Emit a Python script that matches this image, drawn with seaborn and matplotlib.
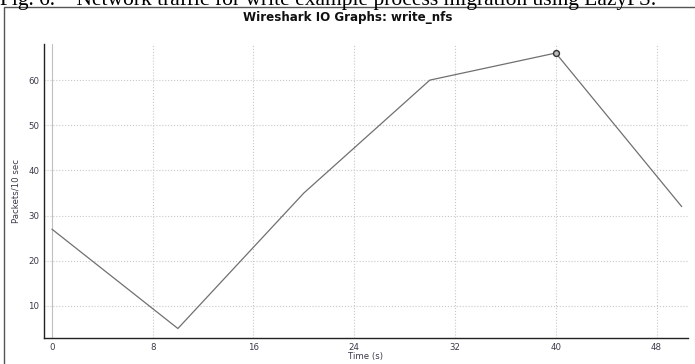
import matplotlib
matplotlib.use("Agg")
import matplotlib.pyplot as plt
import matplotlib.ticker as mticker
from matplotlib.patches import Rectangle
import pandas as pd
import seaborn as sns

# Data
time_s = [0, 10, 20, 30, 40, 50]
packets = [27, 5, 35, 60, 66, 32]
x_ticks = [0, 8, 16, 24, 32, 40, 48]
y_ticks = [10, 20, 30, 40, 50, 60]
marked_time = [40]


def main():
    sns.set_style("white")
    plt.rcParams['font.family'] = ['DejaVu Sans']

    df = pd.DataFrame({"TIME": time_s, "PACKETS": packets})
    df_mark = df[df.TIME.isin(marked_time)]

    fig = plt.figure(figsize=(6.95, 3.64), dpi=100)
    ax = fig.add_axes([44 / 695, 1 - 338 / 364, 644 / 695, 294 / 364])

    sns.lineplot(data=df, x="TIME", y="PACKETS", ax=ax,
                 color="#707070", linewidth=0.9)
    sns.scatterplot(data=df_mark, x="TIME", y="PACKETS", ax=ax,
                    s=18, facecolor="#bbbbbb", edgecolor="#333333",
                    linewidth=1.0, zorder=5)

    ax.set_xlim(-0.63, 50.5)
    ax.set_ylim(2.9, 68)
    ax.set_xticks(x_ticks)
    ax.set_yticks(y_ticks)
    ax.xaxis.set_minor_locator(mticker.MultipleLocator(2))
    ax.yaxis.set_minor_locator(mticker.MultipleLocator(2))

    ax.tick_params(axis="both", which="major", direction="inout", length=5,
                   width=1, color="#333333", labelsize=6.2,
                   labelcolor="#3a3a4a", pad=1)
    ax.tick_params(axis="both", which="minor", direction="inout", length=2.5,
                   width=0.8, color="#333333")

    ax.grid(True, which="major", linestyle=":", color="#c8c8c8", linewidth=0.8)
    ax.get_xgridlines()[0].set_linestyle("-")
    ax.get_xgridlines()[0].set_color("#c0c0c0")

    for side in ["top", "right"]:
        ax.spines[side].set_visible(False)
    for side in ["left", "bottom"]:
        ax.spines[side].set_color("#222222")
        ax.spines[side].set_linewidth(1.0)

    ax.set_xlabel("Time (s)", fontsize=6.2, color="#3a3a4a")
    ax.set_ylabel("Packets/10 sec", fontsize=6.2, color="#3a3a4a")
    ax.yaxis.label.set_va("center")
    ax.xaxis.label.set_va("center")
    ax.yaxis.set_label_coords(-0.043, 0.5)
    ax.xaxis.set_label_coords(0.5, (338 - 356) / 294)

    fig.text(0.5, 1 - 18 / 364, "Wireshark IO Graphs: write_nfs",
             ha="center", va="center", fontsize=8.6, fontweight="bold",
             color="#111111")

    # outer frame of the screenshot
    fig.patches.append(Rectangle((4 / 695, -0.1), 1.1, 1 - 7 / 364 + 0.1,
                                 transform=fig.transFigure, fill=False,
                                 edgecolor="#555555", linewidth=1.0))

    # caption of the page, cut at the top edge
    fig.text(0.0, 1 - 5 / 364,
             "Fig. 6.    Network traffic for write example process migration using LazyFS.",
             ha="left", va="baseline", fontsize=15.5,
             family=["Liberation Serif"], color="#000000")

    fig.savefig("out.png", dpi=100)


if __name__ == "__main__":
    main()
